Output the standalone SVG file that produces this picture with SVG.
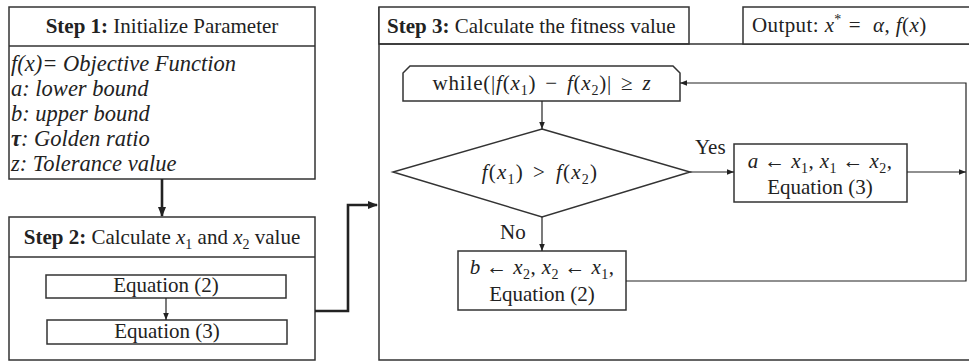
<svg xmlns="http://www.w3.org/2000/svg" width="969" height="362" viewBox="0 0 969 362">
<defs>
<style>
.box{fill:#fff;stroke:#333;stroke-width:1.5}
.ln{fill:none;stroke:#222;stroke-width:1.2}
.edge{fill:none;stroke:#333;stroke-width:1.5}
.thick{fill:none;stroke:#222;stroke-width:2.6}
text{font-family:"Liberation Serif","Times New Roman",serif;font-size:21px;fill:#222}
.it{font-style:italic}
.b{font-weight:bold}
.c{text-anchor:middle}
.li{font-style:italic;font-size:22.5px}
.sub{font-size:14px}
</style>
<marker id="ah" viewBox="0 0 10 10" refX="10" refY="5" markerWidth="7" markerHeight="7" markerUnits="userSpaceOnUse" orient="auto"><path d="M0,1 L10,5 L0,9 Z" fill="#222"/></marker>
<marker id="ahb" viewBox="0 0 10 10" refX="9" refY="5" markerWidth="10" markerHeight="10" markerUnits="userSpaceOnUse" orient="auto"><path d="M0,1 L10,5 L0,9 Z" fill="#222"/></marker>
</defs>

<g id="step1">
<rect class="box" x="9" y="7" width="306" height="172"/>
<line class="edge" x1="9" y1="46" x2="315" y2="46"/>
<text x="162" y="33" class="c"><tspan class="b">Step 1:</tspan> Initialize Parameter</text>
<text x="11" y="71" class="li">f(x)= Objective Function</text>
<text x="11" y="96" class="li">a: lower bound</text>
<text x="11" y="121" class="li">b: upper bound</text>
<text x="11" y="146" class="li"><tspan class="b">τ</tspan>: Golden ratio</text>
<text x="11" y="171" class="li">z: Tolerance value</text>
</g>

<g id="step2">
<rect class="box" x="9" y="217" width="306" height="143"/>
<line class="edge" x1="9" y1="257" x2="315" y2="257"/>
<text x="162" y="244" class="c"><tspan class="b">Step 2:</tspan> Calculate <tspan class="it">x</tspan><tspan class="sub" dy="5">1</tspan><tspan dy="-5"> and </tspan><tspan class="it">x</tspan><tspan class="sub" dy="5">2</tspan><tspan dy="-5"> value</tspan></text>
</g>
<g id="eq2a">
<rect class="box" x="46" y="275" width="240" height="23"/>
<text x="166" y="292" class="c">Equation (2)</text>
</g>
<g id="eq3a">
<rect class="box" x="47" y="320" width="240" height="24"/>
<text x="167" y="338" class="c">Equation (3)</text>
</g>

<g id="step3">
<path class="edge" d="M379,7 L379,360 L975,360"/>
<rect class="box" x="379" y="7" width="310" height="37"/>
<line class="edge" x1="379" y1="44" x2="975" y2="44"/>
<text x="387" y="33"><tspan class="b">Step 3:</tspan> Calculate the fitness value</text>
</g>
<g id="output">
<rect class="box" x="743" y="7" width="236" height="37"/>
<text x="752" y="32" letter-spacing="0.4">Output: <tspan class="it">x</tspan><tspan class="sub" dy="-8">*</tspan><tspan dy="8" dx="7">=</tspan><tspan class="it" dx="12">α</tspan>, <tspan class="it">f</tspan>(<tspan class="it">x</tspan>)</text>
</g>

<g id="while">
<path class="box" d="M403,101 L403,73 L410,66 L673,66 L680,73 L680,101 Z"/>
<text x="542" y="90" class="c" letter-spacing="0.8">while(|<tspan class="it">f</tspan>(<tspan class="it">x</tspan><tspan class="sub" dy="5">1</tspan><tspan dy="-5">)</tspan><tspan dx="9">−</tspan><tspan class="it" dx="9">f</tspan>(<tspan class="it">x</tspan><tspan class="sub" dy="5">2</tspan><tspan dy="-5">)|</tspan><tspan dx="9">≥</tspan><tspan class="it" dx="9">z</tspan></text>
</g>

<g id="decision">
<polygon class="box" points="542,129 690,172 542,217 393,172"/>
<text x="540" y="179" class="c" letter-spacing="1.2"><tspan class="it">f</tspan>(<tspan class="it">x</tspan><tspan class="sub" dy="5">1</tspan><tspan dy="-5">)</tspan><tspan dx="9">&gt;</tspan><tspan class="it" dx="10">f</tspan>(<tspan class="it">x</tspan><tspan class="sub" dy="5">2</tspan><tspan dy="-5">)</tspan></text>
</g>

<g id="yesbox">
<rect class="box" x="734" y="144" width="173" height="58"/>
<text x="820" y="168" class="c" letter-spacing="0.4"><tspan class="it">a</tspan> ← <tspan class="it">x</tspan><tspan class="sub" dy="5">1</tspan><tspan dy="-5">, </tspan><tspan class="it">x</tspan><tspan class="sub" dy="5">1</tspan><tspan dy="-5"> ← </tspan><tspan class="it">x</tspan><tspan class="sub" dy="5">2</tspan><tspan dy="-5">,</tspan></text>
<text x="820" y="194" class="c">Equation (3)</text>
</g>

<g id="nobox">
<rect class="box" x="458" y="251" width="168" height="59"/>
<text x="542" y="274" class="c" letter-spacing="0.4"><tspan class="it">b</tspan> ← <tspan class="it">x</tspan><tspan class="sub" dy="5">2</tspan><tspan dy="-5">, </tspan><tspan class="it">x</tspan><tspan class="sub" dy="5">2</tspan><tspan dy="-5"> ← </tspan><tspan class="it">x</tspan><tspan class="sub" dy="5">1</tspan><tspan dy="-5">,</tspan></text>
<text x="542" y="301" class="c">Equation (2)</text>
</g>

<g id="connectors">
<line class="thick" x1="162" y1="179" x2="162" y2="216" marker-end="url(#ahb)"/>
<polyline class="thick" points="315,311 348,311 348,205 377,205" marker-end="url(#ahb)"/>
<line class="ln" x1="166" y1="298" x2="166" y2="320" marker-end="url(#ah)"/>
<line class="ln" x1="542" y1="101" x2="542" y2="129" marker-end="url(#ah)"/>
<line class="ln" x1="690" y1="172" x2="734" y2="172" marker-end="url(#ah)"/>
<line class="ln" x1="907" y1="172" x2="966" y2="172" marker-end="url(#ah)"/>
<line class="ln" x1="542" y1="217" x2="542" y2="251" marker-end="url(#ah)"/>
<polyline class="ln" points="626,281 966,281 966,83 680,83" marker-end="url(#ah)"/>
<text x="695" y="154">Yes</text>
<text x="500" y="239">No</text>
</g>
</svg>
